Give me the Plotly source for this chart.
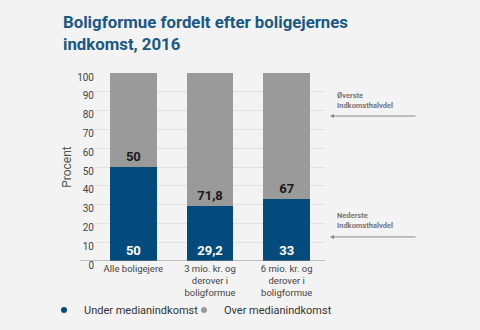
import plotly.graph_objects as go

categories = ["Alle boligejere", "3 mio. kr. og<br>derover i<br>boligformue", "6 mio. kr. og<br>derover i<br>boligformue"]
under_median = [50, 29.2, 33]
over_median = [50, 71.8, 67]
series_names = ["Under medianindkomst", "Over medianindkomst"]
y_ticks = [0, 10, 20, 30, 40, 50, 60, 70, 80, 90, 100]

BLUE = "#034b7c"
GREY = "#9a9a9a"
BG = "#f3f3f3"

def fmt(v):
    s = ("%g" % v)
    return s.replace(".", ",")

fig = go.Figure()
fig.add_trace(go.Bar(
    x=categories, y=under_median, name=series_names[0], marker_color=BLUE,
    marker_line_width=0, width=0.61, showlegend=False,
    text=[fmt(v) for v in under_median], textposition="inside", insidetextanchor="start",
    textfont=dict(family="Roboto", size=13, color="white", weight="bold"),
    textangle=0,
))
fig.add_trace(go.Bar(
    x=categories, y=over_median, name=series_names[1], marker_color=GREY,
    marker_line_width=0, width=0.61, showlegend=False,
    text=[fmt(v) for v in over_median], textposition="inside", insidetextanchor="start",
    textfont=dict(family="Roboto", size=13, color="#1a1a1a", weight="bold"),
    textangle=0,
))
# legend entries with round symbols (one legend box each, to keep them on one row)
for name, col, lg in zip(series_names, [BLUE, GREY], ["legend", "legend2"]):
    fig.add_trace(go.Scatter(x=[None], y=[None], mode="markers", name=name, legend=lg,
                             marker=dict(symbol="circle", size=6, color=col)))

legend_common = dict(orientation="h", xref="container", yref="container",
                     xanchor="left", y=1 - 310/330, yanchor="middle",
                     font=dict(size=11, color="#333"), itemwidth=30,
                     bgcolor="rgba(0,0,0,0)")

fig.update_layout(
    barmode="stack",
    width=480, height=330,
    paper_bgcolor=BG, plot_bgcolor=BG,
    margin=dict(l=95, r=155, t=73, b=69, autoexpand=False),
    font=dict(family="Roboto", color="#444"),
    title=dict(text="Boligformue fordelt efter boligejernes<br>indkomst, 2016",
               x=63/480, xanchor="left", y=1 - 28/330, yanchor="top",
               font=dict(family="Roboto", size=16.8, color="#1a5886", weight="bold")),
    xaxis=dict(range=[-0.5, 2.5], showgrid=False, showline=False, ticks="",
               tickfont=dict(size=9.5, color="#444"), fixedrange=True),
    yaxis=dict(range=[0, 100], tickvals=y_ticks, showgrid=True, gridcolor="#e2e2e2",
               gridwidth=1, zeroline=False, showline=False,
               tickfont=dict(size=10, color="#444"), ticklabelshift=4,
               title=dict(text="Procent", font=dict(size=12, color="#555"), standoff=2)),
    legend=dict(x=44/480, **legend_common),
    legend2=dict(x=184/480, **legend_common),
    showlegend=True,
)

# bottom axis line extending left like the reference
fig.add_shape(type="line", xref="paper", yref="y", x0=-15/230, x1=1, y0=0, y1=0,
              line=dict(color="#888", width=1))

# right-hand annotations with arrows
for label, yval in [("Øverste<br>Indkomsthalvdel", 77.1), ("Nederste<br>Indkomsthalvdel", 12.8)]:
    fig.add_annotation(xref="paper", yref="y", x=1.045, y=yval + 8.5, text=label,
                       showarrow=False, xanchor="left", yanchor="middle", align="left",
                       font=dict(family="Roboto", size=7.5, color="#777", weight="bold"))
    fig.add_annotation(xref="paper", yref="y", x=(330 - 95) / 230, y=yval,
                       ax=87, ay=0, axref="pixel", ayref="pixel",
                       text="", showarrow=True, arrowhead=2, arrowsize=0.8,
                       arrowwidth=1, arrowcolor="#888")

fig.write_html("out.html")
